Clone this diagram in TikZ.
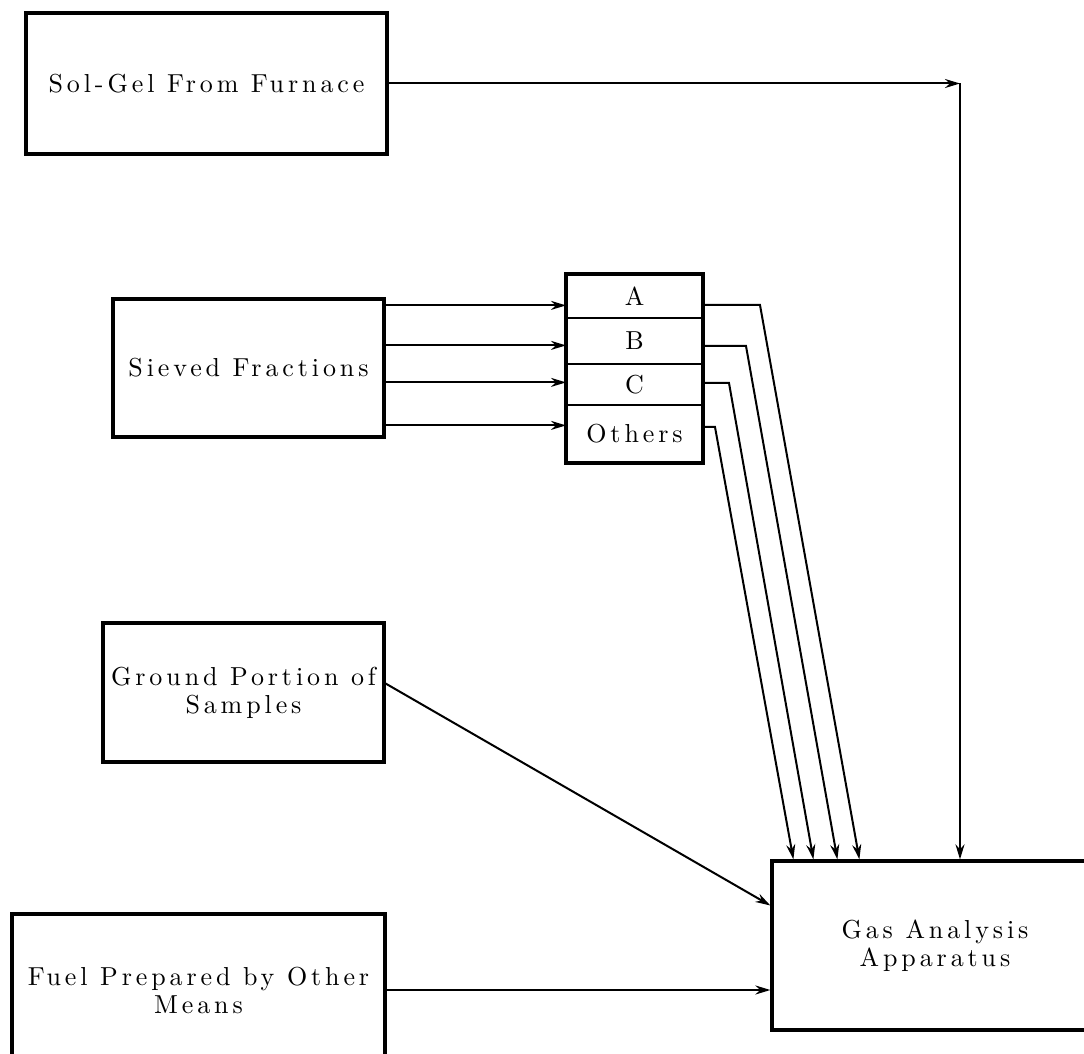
\documentclass[tikz,border=0pt]{standalone}
\usepackage{fontspec}
\newfontfamily\boxfont{lmroman10-regular.otf}[LetterSpace=15]
\usetikzlibrary{arrows.meta}
\begin{document}
\begin{tikzpicture}[x=0.5pt,y=-0.5pt,>={Stealth[length=7.5pt,width=4.5pt]},line width=1pt]
    \tikzstyle{block}=[rectangle, draw, line width=1.6pt, align=center, inner sep=0pt, font=\boxfont\fontsize{13}{14}\selectfont]
    \tikzstyle{row}=[rectangle, draw, line width=1pt, minimum width=67.5pt, inner sep=0pt, font=\boxfont\fontsize{13}{14}\selectfont]
    \useasboundingbox (0,0) rectangle (1084,1054);
    \node[block, minimum width=180.5pt, minimum height=70.5pt] (solgel) at (206.5,83.5) {Sol-Gel From Furnace};
    \node[block, minimum width=135.5pt, minimum height=69pt] (sieved) at (248.5,368) {Sieved Fractions};
    \node[block, minimum width=140.5pt, minimum height=69.5pt] (ground) at (243.5,692.5) {Ground Portion of\\Samples};
    \node[block, minimum width=186.5pt, minimum height=76pt] (fuel) at (198.5,990) {Fuel Prepared by Other\\Means};
    \node[block, minimum width=163pt, minimum height=84.5pt] (gas) at (935,945.5) {Gas Analysis\\Apparatus};
    % sieve fractions
    \node[row, minimum height=21.5pt] (fA) at (634.5,296.5) {A};
    \node[row, minimum height=23pt] (fB) at (634.5,341) {B};
    \node[row, minimum height=20.5pt] (fC) at (634.5,384.5) {C};
    \node[row, minimum height=28.5pt] (fO) at (634.5,433.5) {Others};
    \draw[line width=1.6pt] (fA.north west) rectangle (fO.south east);
    \coordinate (turn) at (960,83.5);
    \draw[->] (solgel.east) -- (turn);
    \draw[->] (turn) -- (turn |- gas.north);
    \foreach \dy/\row in {4/fA,24/fB,42.5/fC,64/fO}
      \draw[->] ([yshift=-\dy pt]sieved.north east) coordinate (s) -- (s -| \row.west);
    \foreach \row/\dy/\bx/\ex in {fA/-4.25/57/44.5, fB/-2.5/43/33.5, fC/0.75/26/21.5, fO/3.25/12/11.5}
      \draw[->] ([yshift=\dy pt]\row.east) -- ++(\bx,0) -- ([xshift=\ex pt]gas.north west);
    \draw[->] ([yshift=4.5pt]ground.east) -- ([yshift=20pt]gas.west);
    \draw[->] (fuel.east) -- (fuel.east -| gas.west);
\end{tikzpicture}
\end{document}
